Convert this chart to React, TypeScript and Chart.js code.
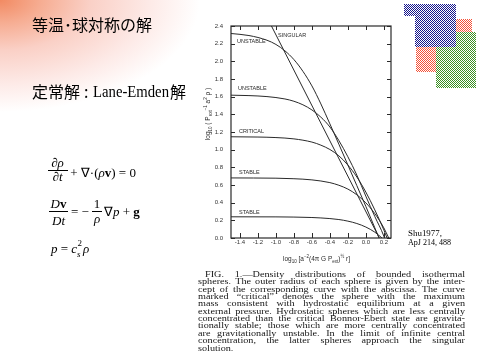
import React, { useEffect, useRef } from "react";
import { Chart, registerables } from "chart.js";
Chart.register(...registerables);

// ---- data ----
const xTicks = [-1.4, -1.2, -1.0, -0.8, -0.6, -0.4, -0.2, 0.0, 0.2];
const yTicks = [0.0, 0.2, 0.4, 0.6, 0.8, 1.0, 1.2, 1.4, 1.6, 1.8, 2.0, 2.2, 2.4];

const xSingular = [-1.1, 0.15];
const ySingular = [2.5, 0.0];

const xUnstable1 = [-1.5, -1.3, -1.1, -1.0, -0.9, -0.8, -0.7, -0.6, -0.5, -0.4, -0.3, -0.2, -0.1, 0.0, 0.1, 0.147];
const yUnstable1 = [2.315, 2.292, 2.239, 2.191, 2.119, 2.02, 1.887, 1.722, 1.518, 1.292, 1.062, 0.827, 0.593, 0.358, 0.115, 0.0];

const xUnstable2 = [-1.5, -1.3, -1.1, -0.9, -0.8, -0.7, -0.6, -0.5, -0.4, -0.3, -0.2, -0.1, 0.0, 0.1, 0.2, 0.207];
const yUnstable2 = [1.617, 1.612, 1.601, 1.574, 1.548, 1.508, 1.45, 1.368, 1.257, 1.103, 0.92, 0.712, 0.473, 0.243, 0.022, 0.0];

const xCritical = [-1.5, -1.2, -1.0, -0.8, -0.6, -0.5, -0.4, -0.3, -0.2, -0.1, 0.0, 0.1, 0.2, 0.236];
const yCritical = [1.146, 1.143, 1.137, 1.122, 1.086, 1.051, 1.002, 0.93, 0.826, 0.691, 0.52, 0.318, 0.092, 0.0];

const xStable1 = [-1.5, -1.0, -0.8, -0.6, -0.4, -0.3, -0.2, -0.1, 0.0, 0.1, 0.2, 0.255];
const yStable1 = [0.68, 0.677, 0.671, 0.658, 0.627, 0.597, 0.554, 0.489, 0.398, 0.276, 0.115, 0.0];

const xStable2 = [-1.5, -1.0, -0.8, -0.6, -0.4, -0.3, -0.2, -0.1, 0.0, 0.1, 0.18];
const yStable2 = [0.24, 0.239, 0.237, 0.232, 0.22, 0.209, 0.191, 0.164, 0.124, 0.066, 0.0];

const curveLabels = ["SINGULAR", "UNSTABLE", "UNSTABLE", "CRITICAL", "STABLE", "STABLE"];
const curveLabelX = [-0.977, -1.433, -1.422, -1.411, -1.411, -1.411];
const curveLabelY = [2.287, 2.23, 1.687, 1.211, 0.747, 0.294];

const titleText = "等温･球対称の解";
const subtitleParts = ["定常解", ":", "Lane-Emden", "解"];
const citation = ["Shu1977,", "ApJ 214, 488"];
const captionLines = [
  "FIG. 1.—Density distributions of bounded isothermal",
  "spheres. The outer radius of each sphere is given by the inter-",
  "cept of the corresponding curve with the abscissa. The curve",
  "marked \u201Ccritical\u201D denotes the sphere with the maximum",
  "mass consistent with hydrostatic equilibrium at a given",
  "external pressure. Hydrostatic spheres which are less centrally",
  "concentrated than the critical Bonnor-Ebert state are gravita-",
  "tionally stable; those which are more centrally concentrated",
  "are gravitationally unstable. In the limit of infinite central",
  "concentration, the latter spheres approach the singular",
  "solution.",
];

const pts = (xs: number[], ys: number[]) => xs.map((x, i) => ({ x, y: ys[i] }));

const SERIF = '"Liberation Serif", "Times New Roman", serif';
const SANS = '"Liberation Sans", Arial, sans-serif';
const CJK = '"Noto Sans CJK JP", sans-serif';

type Seg = { t: string; size: number; dy?: number; style?: string; fam?: string };

function segWidth(ctx: CanvasRenderingContext2D, segs: Seg[], fam: string) {
  let w = 0;
  for (const s of segs) {
    ctx.font = `${s.style ?? ""} ${s.size}px ${s.fam ?? fam}`;
    w += ctx.measureText(s.t).width;
  }
  return w;
}
function drawSegs(ctx: CanvasRenderingContext2D, segs: Seg[], x: number, y: number, fam: string) {
  let cx = x;
  ctx.textAlign = "left";
  for (const s of segs) {
    ctx.font = `${s.style ?? ""} ${s.size}px ${s.fam ?? fam}`;
    ctx.fillText(s.t, cx, y + (s.dy ?? 0));
    cx += ctx.measureText(s.t).width;
  }
  return cx;
}

function makePattern(ctx: CanvasRenderingContext2D, color: string) {
  const c = document.createElement("canvas");
  c.width = 2;
  c.height = 2;
  const p = c.getContext("2d")!;
  p.fillStyle = "#fff";
  p.fillRect(0, 0, 2, 2);
  p.fillStyle = color;
  p.fillRect(0, 0, 1, 1);
  p.fillRect(1, 1, 1, 1);
  return ctx.createPattern(c, "repeat")!;
}

function justify(ctx: CanvasRenderingContext2D, s: string, x: number, y: number, w: number) {
  const words = s.split(" ");
  const nat = ctx.measureText(s).width;
  if (nat >= w || words.length < 2) {
    ctx.fillText(s, x, y, w);
    return;
  }
  const ws = words.map((t) => ctx.measureText(t).width);
  const sum = ws.reduce((a, b) => a + b, 0);
  const gap = (w - sum) / (words.length - 1);
  let cx = x;
  words.forEach((t, i) => {
    ctx.fillText(t, cx, y);
    cx += ws[i] + gap;
  });
}

const slidePlugin = {
  id: "slide",
  beforeDraw(chart: any) {
    const ctx: CanvasRenderingContext2D = chart.ctx;
    ctx.save();
    ctx.fillStyle = "#ffffff";
    ctx.fillRect(0, 0, 480, 360);

    // top-left warm gradient
    ctx.save();
    ctx.scale(1, 0.56);
    const g = ctx.createRadialGradient(0, 0, 0, 0, 0, 200);
    g.addColorStop(0, "rgb(242,138,98)");
    g.addColorStop(0.2, "rgb(246,172,145)");
    g.addColorStop(0.45, "rgb(250,208,198)");
    g.addColorStop(0.75, "rgb(253,234,231)");
    g.addColorStop(1, "rgb(255,255,255)");
    ctx.fillStyle = g;
    ctx.fillRect(0, 0, 200, 360);
    ctx.restore();

    // top-right dithered blocks
    const blue = makePattern(ctx, "rgb(20,20,140)");
    const red = makePattern(ctx, "rgb(245,80,55)");
    const green = makePattern(ctx, "rgb(60,145,35)");
    ctx.fillStyle = blue;
    ctx.fillRect(404, 4, 52, 12);
    ctx.fillRect(415, 16, 41, 31);
    ctx.fillStyle = red;
    ctx.fillRect(456, 19, 16, 13);
    ctx.fillRect(416, 47, 20, 25);
    ctx.fillStyle = green;
    ctx.fillRect(456, 32, 20, 15);
    ctx.fillRect(436, 47, 40, 41);

    // Japanese headings
    ctx.fillStyle = "#000";
    ctx.textBaseline = "middle";
    ctx.textAlign = "left";
    ctx.font = `16px ${CJK}`;
    ctx.fillText(titleText, 32, 25, 121);
    ctx.font = `16px ${CJK}`;
    ctx.fillText(subtitleParts[0], 32, 92, 51);
    ctx.fillText(subtitleParts[1], 84, 92);
    ctx.font = `16px ${SERIF}`;
    ctx.fillText(subtitleParts[2], 93, 93, 76);
    ctx.font = `16px ${CJK}`;
    ctx.fillText(subtitleParts[3], 170, 92);

    // equations
    ctx.textBaseline = "alphabetic";
    ctx.fillStyle = "#000";
    ctx.strokeStyle = "#000";
    ctx.lineWidth = 1;
    const F = 13;
    // eq 1
    ctx.textAlign = "center";
    ctx.font = `italic ${F}px ${SERIF}`;
    ctx.fillText("\u2202\u03C1", 57.5, 167);
    ctx.fillText("\u2202t", 57.5, 181);
    ctx.beginPath();
    ctx.moveTo(48, 170.5);
    ctx.lineTo(68, 170.5);
    ctx.stroke();
    drawSegs(ctx, [
      { t: " + ", size: F },
      { t: "\u2207\u00B7(", size: F },
      { t: "\u03C1", size: F, style: "italic" },
      { t: "v", size: F, style: "bold" },
      { t: ")", size: F },
      { t: " = 0", size: F },
    ], 67, 177, SERIF);
    // eq 2
    const dvSegs: Seg[] = [{ t: "D", size: F, style: "italic" }, { t: "v", size: F, style: "bold" }];
    const dvW = segWidth(ctx, dvSegs, SERIF);
    drawSegs(ctx, dvSegs, 58.5 - dvW / 2, 208, SERIF);
    ctx.textAlign = "center";
    ctx.font = `italic ${F}px ${SERIF}`;
    ctx.fillText("Dt", 58.5, 225);
    ctx.beginPath();
    ctx.moveTo(49, 211.5);
    ctx.lineTo(68, 211.5);
    ctx.stroke();
    drawSegs(ctx, [{ t: "= \u2212", size: F }], 71, 216, SERIF);
    ctx.textAlign = "center";
    ctx.font = `${F}px ${SERIF}`;
    ctx.fillText("1", 97, 208);
    ctx.font = `italic ${F}px ${SERIF}`;
    ctx.fillText("\u03C1", 97, 223);
    ctx.beginPath();
    ctx.moveTo(92, 211.5);
    ctx.lineTo(102, 211.5);
    ctx.stroke();
    drawSegs(ctx, [
      { t: "\u2207", size: F },
      { t: "p", size: F, style: "italic" },
      { t: " + ", size: F },
      { t: "g", size: F, style: "bold" },
    ], 104, 216, SERIF);
    // eq 3
    const x3 = drawSegs(ctx, [
      { t: "p", size: F, style: "italic" },
      { t: " = ", size: F },
      { t: "c", size: F, style: "italic" },
    ], 51, 253, SERIF);
    ctx.font = `9px ${SERIF}`;
    ctx.textAlign = "left";
    ctx.fillText("2", x3 + 0.5, 246);
    ctx.font = `italic 9px ${SERIF}`;
    ctx.fillText("s", x3, 257);
    ctx.font = `italic ${F}px ${SERIF}`;
    ctx.fillText("\u03C1", x3 + 6, 253);

    // citation
    ctx.font = `9px ${SERIF}`;
    ctx.fillStyle = "#000";
    ctx.fillText(citation[0], 408, 236, 34);
    ctx.fillText(citation[1], 408, 245, 43);

    // caption
    ctx.fillStyle = "#151515";
    ctx.font = `10.2px ${SERIF}`;
    captionLines.forEach((line, i) => {
      const y = 277 + i * 7.35;
      const x0 = i === 0 ? 205 : 198;
      ctx.save();
      ctx.translate(x0, y);
      ctx.scale(1, 0.86);
      if (i === captionLines.length - 1) ctx.fillText(line, 0, 0);
      else justify(ctx, line, 0, 0, 465 - x0);
      ctx.restore();
    });
    ctx.restore();
  },
  afterDraw(chart: any) {
    const ctx: CanvasRenderingContext2D = chart.ctx;
    const { left, right, top, bottom } = chart.chartArea;
    const xs = chart.scales.x;
    const ys = chart.scales.y;
    ctx.save();
    ctx.strokeStyle = "#2a2a2a";
    ctx.lineWidth = 1.2;
    ctx.strokeRect(left, top, right - left, bottom - top);
    ctx.lineWidth = 1;
    ctx.beginPath();
    xTicks.forEach((v) => {
      const px = Math.round(xs.getPixelForValue(v)) + 0.5;
      ctx.moveTo(px, bottom);
      ctx.lineTo(px, bottom - 5);
      ctx.moveTo(px, top);
      ctx.lineTo(px, top + 4);
    });
    yTicks.forEach((v) => {
      const py = Math.round(ys.getPixelForValue(v)) + 0.5;
      ctx.moveTo(left, py);
      ctx.lineTo(left + 4, py);
      ctx.moveTo(right, py);
      ctx.lineTo(right - 4, py);
    });
    ctx.stroke();

    // curve labels
    ctx.fillStyle = "#2a2a2a";
    ctx.font = `5.5px ${SANS}`;
    ctx.textAlign = "left";
    ctx.textBaseline = "middle";
    curveLabels.forEach((t, i) => {
      ctx.fillText(t, xs.getPixelForValue(curveLabelX[i]), ys.getPixelForValue(curveLabelY[i]));
    });

    // axis titles
    ctx.textBaseline = "alphabetic";
    const ySegs: Seg[] = [
      { t: "log", size: 6.5 },
      { t: "10", size: 4.5, dy: 1.5 },
      { t: " ( P", size: 6.5 },
      { t: "ext", size: 4.5, dy: 1.5 },
      { t: "\u22121", size: 4.5, dy: -3 },
      { t: " a", size: 6.5 },
      { t: "2", size: 4.5, dy: -3 },
      { t: " \u03C1 )", size: 6.5 },
    ];
    const yw = segWidth(ctx, ySegs, SANS);
    ctx.save();
    ctx.translate(210, 114);
    ctx.rotate(-Math.PI / 2);
    drawSegs(ctx, ySegs, -yw / 2, 0, SANS);
    ctx.restore();

    const xSegs: Seg[] = [
      { t: "log", size: 6.5 },
      { t: "10", size: 4.5, dy: 1.5 },
      { t: " [a", size: 6.5 },
      { t: "\u22122", size: 4.5, dy: -3 },
      { t: "(4\u03C0 G P", size: 6.5 },
      { t: "ext", size: 4.5, dy: 1.5 },
      { t: ")", size: 6.5 },
      { t: "\u00BD", size: 4.5, dy: -3 },
      { t: " r]", size: 6.5 },
    ];
    drawSegs(ctx, xSegs, 283, 261, SANS);
    ctx.restore();
  },
};

export default function App() {
  const ref = useRef<HTMLCanvasElement>(null);
  useEffect(() => {
    const canvas = ref.current!;
    const line = (data: { x: number; y: number }[]) => ({
      data,
      showLine: true,
      borderColor: "#2a2a2a",
      backgroundColor: "#2a2a2a",
      borderWidth: 1,
      pointRadius: 0,
      cubicInterpolationMode: "monotone" as const,
      fill: false,
    });
    const chart = new Chart(canvas, {
      type: "scatter",
      data: {
        datasets: [
          { ...line(pts(xSingular, ySingular)), cubicInterpolationMode: "default" as const, tension: 0 },
          line(pts(xUnstable1, yUnstable1)),
          line(pts(xUnstable2, yUnstable2)),
          line(pts(xCritical, yCritical)),
          line(pts(xStable1, yStable1)),
          line(pts(xStable2, yStable2)),
        ],
      },
      options: {
        responsive: false,
        animation: false,
        devicePixelRatio: 1,
        layout: { padding: { left: 0, top: 26, right: 89, bottom: 0 } },
        plugins: { legend: { display: false }, tooltip: { enabled: false } },
        scales: {
          x: {
            type: "linear",
            min: -1.5,
            max: 0.28,
            afterBuildTicks: (s: any) => {
              s.ticks = xTicks.map((v) => ({ value: v }));
            },
            afterFit: (s: any) => {
              s.height = 122;
            },
            grid: { display: false, drawTicks: false },
            border: { display: false },
            ticks: {
              padding: 1,
              color: "#333",
              autoSkip: false,
              maxRotation: 0,
              font: { size: 6, family: "Liberation Sans" },
              callback: (v: any) => Number(v).toFixed(1),
            },
          },
          y: {
            type: "linear",
            min: 0,
            max: 2.4,
            afterBuildTicks: (s: any) => {
              s.ticks = yTicks.map((v) => ({ value: v }));
            },
            afterFit: (s: any) => {
              s.width = 231;
            },
            grid: { display: false, drawTicks: false },
            border: { display: false },
            ticks: {
              padding: 8,
              color: "#333",
              autoSkip: false,
              font: { size: 6, family: "Liberation Sans" },
              callback: (v: any) => Number(v).toFixed(1),
            },
          },
        },
      },
      plugins: [slidePlugin],
    } as any);
    return () => chart.destroy();
  }, []);
  return (
    <div style={{ position: "fixed", left: 0, top: 0, width: 480, height: 360 }}>
      <canvas ref={ref} width={480} height={360} style={{ display: "block", width: 480, height: 360 }} />
    </div>
  );
}
